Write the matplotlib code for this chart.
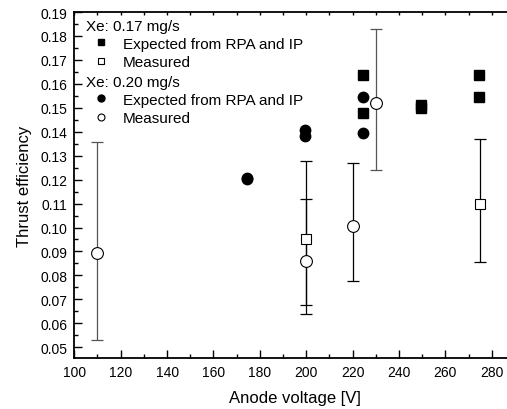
import matplotlib
matplotlib.use("Agg")
import matplotlib.pyplot as plt
from matplotlib.lines import Line2D
from matplotlib.ticker import MultipleLocator

plt.rcParams['font.family'] = ['Liberation Sans', 'DejaVu Sans']

# Data
exp17_x = [224.5, 224.5, 249.5, 249.5, 274.5, 274.5]
exp17_y = [0.1638, 0.1478, 0.1512, 0.1497, 0.1638, 0.1543]
exp20_x = [174.5, 174.5, 199.5, 199.5, 224.5, 224.5]
exp20_y = [0.1207, 0.1201, 0.1408, 0.1384, 0.1545, 0.1394]
meas17_x = [200, 275]
meas17_y = [0.0953, 0.1099]
meas17_hi = [0.1277, 0.1368]
meas17_lo = [0.0676, 0.0857]
meas20_x = [110, 200, 220, 230]
meas20_y = [0.0895, 0.0862, 0.1008, 0.1522]
meas20_hi = [0.1357, 0.1119, 0.1270, 0.1830]
meas20_lo = [0.0532, 0.0638, 0.0776, 0.1241]
meas20_ecol = ['#555555', 'black', 'black', '#555555']

W, H = 507, 410
fig = plt.figure(figsize=(W / 100, H / 100), dpi=100)
left, right_px, top, bottom = 74.3, 515, 13, 359
ax = fig.add_axes([left / W, 1 - bottom / H, (right_px - left) / W, (bottom - top) / H])

# error bars
for x, y, hi, lo in zip(meas17_x, meas17_y, meas17_hi, meas17_lo):
    ax.errorbar([x], [y], yerr=[[y - lo], [hi - y]], fmt='none', ecolor='black',
                elinewidth=0.9, capsize=4.5, capthick=0.9, zorder=2)
for x, y, hi, lo, c in zip(meas20_x, meas20_y, meas20_hi, meas20_lo, meas20_ecol):
    ax.errorbar([x], [y], yerr=[[y - lo], [hi - y]], fmt='none', ecolor=c,
                elinewidth=0.9, capsize=4.5, capthick=0.9, zorder=2)

ax.plot(exp17_x, exp17_y, 's', color='black', ms=7, zorder=3, linestyle='none')
ax.plot(exp20_x, exp20_y, 'o', color='black', ms=7.5, zorder=3, linestyle='none')
ax.plot(meas17_x, meas17_y, 's', mfc='white', mec='black', mew=0.8, ms=7, zorder=4, linestyle='none')
ax.plot(meas20_x, meas20_y, 'o', mfc='white', mec='black', mew=0.8, ms=8.5, zorder=4, linestyle='none')

ax.set_xlim(100, 290)
ax.set_ylim(0.0455, 0.19)
ax.xaxis.set_minor_locator(MultipleLocator(10))
ax.yaxis.set_minor_locator(MultipleLocator(0.005))
ax.set_xticks([100, 120, 140, 160, 180, 200, 220, 240, 260, 280])
ax.set_yticks([0.05 + 0.01 * i for i in range(15)])
ax.set_yticklabels([f"{0.05 + 0.01 * i:.2f}" for i in range(15)])

ax.tick_params(which='major', direction='in', length=5.5, width=1, labelsize=10, pad=5, top=False)
ax.tick_params(which='minor', direction='in', length=3, width=1, top=False)
for s in ['left', 'bottom', 'top']:
    ax.spines[s].set_linewidth(1.3)
ax.spines['right'].set_visible(False)
# small top ticks
ax2 = ax.secondary_xaxis('top')
ax2.set_xticks([100 + 10 * i for i in range(19)])
ax2.tick_params(direction='in', length=2, width=1, labeltop=False)
ax2.spines['top'].set_visible(False)

ax.set_xlabel('Anode voltage [V]', fontsize=12, labelpad=8)
ax.set_ylabel('Thrust efficiency', fontsize=12, labelpad=6)

h1 = [Line2D([], [], marker='s', color='black', ls='none', ms=4.5),
      Line2D([], [], marker='s', mfc='white', mec='black', mew=0.8, ls='none', ms=4.5)]
h2 = [Line2D([], [], marker='o', color='black', ls='none', ms=5),
      Line2D([], [], marker='o', mfc='white', mec='black', mew=0.8, ls='none', ms=5)]
lab = ['Expected from RPA and IP', 'Measured']
common = dict(frameon=False, fontsize=11, title_fontsize=11, handlelength=2.0,
              handletextpad=0.4, labelspacing=0.31, borderpad=0.0, borderaxespad=0.0,
              alignment='left')
x_anchor = (86 - left) / (right_px - left)
leg1 = ax.legend(h1, lab, title='Xe: 0.17 mg/s', loc='upper left',
                 bbox_to_anchor=(x_anchor, 1 - (20 - top) / (bottom - top)), **common)
leg1._legend_box.sep = 2.6
ax.add_artist(leg1)
leg2 = ax.legend(h2, lab, title='Xe: 0.20 mg/s', loc='upper left',
                 bbox_to_anchor=(x_anchor, 1 - (76 - top) / (bottom - top)), **common)
leg2._legend_box.sep = 2.6

fig.savefig('out.png', dpi=100)
